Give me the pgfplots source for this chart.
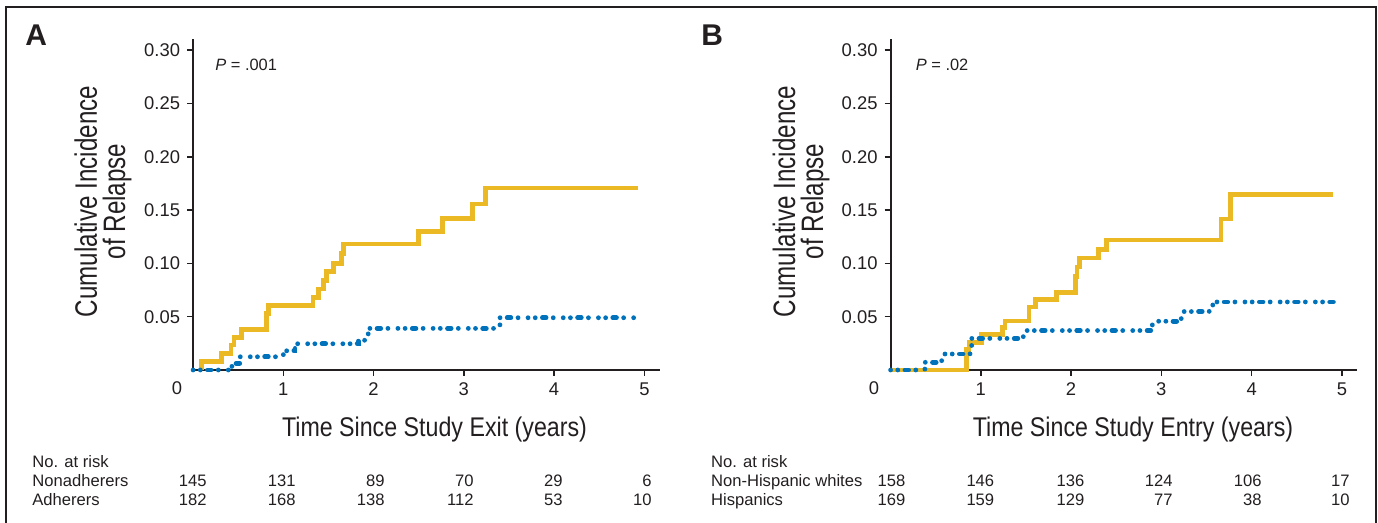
\documentclass[border=0pt]{standalone}
\usepackage{fontspec}
\setmainfont{Liberation Sans}
\newfontfamily\ylabfont[FakeStretch=0.78]{Liberation Sans}
\newfontfamily\xlabfont[FakeStretch=0.86]{Liberation Sans}
\usepackage{pgfplots}
\pgfplotsset{compat=1.18}
\definecolor{cyel}{RGB}{234,185,35}
\definecolor{cblue}{RGB}{0,114,188}
\definecolor{axc}{RGB}{35,31,32}
\pgfplotsset{km/.style={
  scale only axis, width=233.3pt, height=165.3pt,
  xmin=0, xmax=5.17, ymin=0, ymax=0.31,
  axis x line=bottom, axis y line=left,
  axis line style={-, line width=1pt, color=axc},
  tick align=outside, major tick length=3pt,
  tick style={line width=0.8pt, color=axc},
  xtick={1,2,3,4,5}, xticklabels={1,2,3,4,5},
  ytick={0.05,0.10,0.15,0.20,0.25,0.30},
  yticklabels={0.05,0.10,0.15,0.20,0.25,0.30},
  ticklabel style={font=\fontsize{9.2}{9.2}\selectfont, text=axc},
  clip=false,
  yel/.style={cyel, line width=2.3pt, const plot mark left, mark=none},
  blu/.style={cblue, line width=2.4pt, const plot mark left, mark=none, line cap=round, dash pattern=on 0pt off 3.6pt on 0pt off 3.6pt on 1.8pt off 3.6pt on 0pt off 5pt},
}}
\begin{document}
\begin{tikzpicture}
\path[use as bounding box] (0,0) rectangle (689pt,261.5pt);
\draw[line width=0.8pt, color=axc] (3pt,0) -- (3pt,258pt) -- (688pt,258pt) -- (688pt,0);

% ---------- Panel A ----------
\begin{axis}[km, at={(96.55pt,76.5pt)}, anchor=south west]
\addplot[yel] coordinates {
(0.09,0) (0.09,0.0078) (0.317,0.0156) (0.42,0.0233) (0.454,0.0305) (0.537,0.038)
(0.815,0.053) (0.835,0.0607) (1.33,0.068) (1.387,0.076) (1.443,0.084) (1.48,0.0924)
(1.554,0.0996) (1.646,0.109) (1.665,0.118) (2.495,0.130) (2.765,0.142) (3.094,0.1556)
(3.242,0.1705) (4.926,0.1705)};
\addplot[blu] coordinates {
(0,0) (0.43,0.0062) (0.52,0.0124) (1.0,0.018) (1.13,0.0246) (1.83,0.0275) (1.90,0.031)
(1.94,0.039) (3.40,0.049) (4.92,0.049)};
\end{axis}

% ---------- Panel B ----------
\begin{axis}[km, at={(445.3pt,76.5pt)}, anchor=south west]
\addplot[yel] coordinates {
(0,0) (0.84,0.019) (0.87,0.026) (1.008,0.033) (1.24,0.040) (1.266,0.046) (1.535,0.059)
(1.605,0.066) (1.837,0.0725) (2.05,0.0878) (2.066,0.0965) (2.095,0.105) (2.305,0.113)
(2.39,0.122) (3.662,0.1416) (3.765,0.1643) (4.897,0.1643)};
\addplot[blu] coordinates {
(0,0) (0.38,0.0072) (0.566,0.015) (0.88,0.023) (0.9,0.0296) (1.47,0.037) (2.9,0.0457)
(3.22,0.0548) (3.53,0.0607) (3.57,0.0638) (4.92,0.0638)};
\end{axis}

\begin{scope}[every node/.style={inner sep=0pt, text=axc}]
% panel letters
\node[anchor=base west, font=\bfseries\fontsize{15}{15}\selectfont] at (12.5pt,238.5pt) {A};
\node[anchor=base west, font=\bfseries\fontsize{15}{15}\selectfont] at (350.5pt,238.5pt) {B};
% y labels
\node[rotate=90, anchor=base, font=\ylabfont\fontsize{15.5}{15.5}\selectfont] at (48.5pt,160.75pt) {Cumulative Incidence};
\node[rotate=90, anchor=base, font=\ylabfont\fontsize{15.5}{15.5}\selectfont] at (62.5pt,160.75pt) {of Relapse};
\node[rotate=90, anchor=base, font=\ylabfont\fontsize{15.5}{15.5}\selectfont] at (397.5pt,160.75pt) {Cumulative Incidence};
\node[rotate=90, anchor=base, font=\ylabfont\fontsize{15.5}{15.5}\selectfont] at (411.5pt,160.75pt) {of Relapse};
% x labels
\node[anchor=base, font=\xlabfont\fontsize{13.5}{13.5}\selectfont] at (217.25pt,43pt) {Time Since Study Exit (years)};
\node[anchor=base, font=\xlabfont\fontsize{13.5}{13.5}\selectfont] at (566.5pt,43pt) {Time Since Study Entry (years)};
% zero labels
\node[anchor=base, font=\fontsize{9.2}{9.2}\selectfont] at (88.5pt,64pt) {0};
\node[anchor=base, font=\fontsize{9.2}{9.2}\selectfont] at (437pt,64pt) {0};
% P values
\node[anchor=base west, font=\fontsize{8.2}{8.2}\selectfont] at (107.5pt,226pt) {\textit{P} = .001};
\node[anchor=base west, font=\fontsize{8.2}{8.2}\selectfont] at (457.75pt,226pt) {\textit{P} = .02};
% risk tables
\begin{scope}[every node/.append style={font=\fontsize{8.3}{8.3}\selectfont}]
\node[anchor=base west] at (16pt,27.65pt) {No. at risk};
\node[anchor=base west] at (16pt,18.15pt) {Nonadherers};
\node[anchor=base west] at (16pt,8.5pt) {Adherers};
\foreach \x/\a/\b in {103.5/145/182, 148/131/168, 192.5/89/138, 237/70/112, 281.5/29/53, 326/6/10}{
  \node[anchor=base east] at (\x pt,18.15pt) {\a};
  \node[anchor=base east] at (\x pt,8.5pt) {\b};
}
\node[anchor=base west] at (355.35pt,27.65pt) {No. at risk};
\node[anchor=base west] at (355.35pt,18.15pt) {Non-Hispanic whites};
\node[anchor=base west] at (355.35pt,8.5pt) {Hispanics};
\foreach \x/\a/\b in {452.85/158/169, 497.3/146/159, 542.4/136/129, 586.5/124/77, 631/106/38, 675/17/10}{
  \node[anchor=base east] at (\x pt,18.15pt) {\a};
  \node[anchor=base east] at (\x pt,8.5pt) {\b};
}
\end{scope}
\end{scope}
\end{tikzpicture}
\end{document}
